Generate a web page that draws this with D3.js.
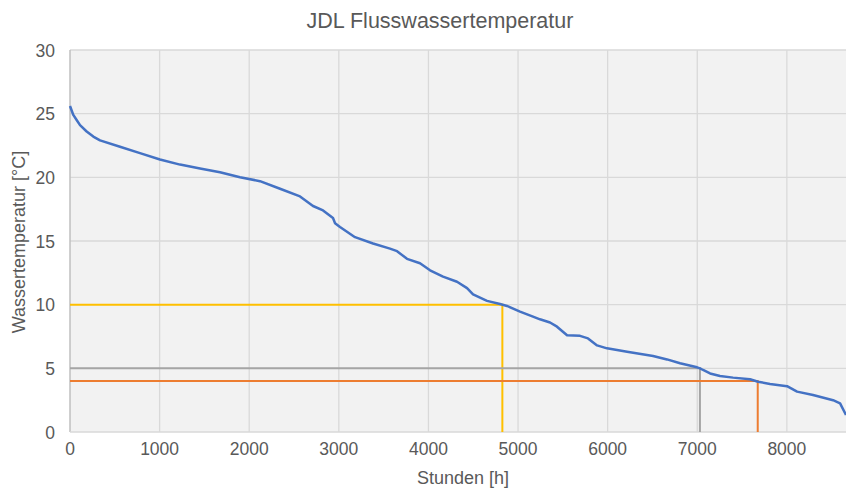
<!DOCTYPE html>
<html><head><meta charset="utf-8">
<script src="https://cdn.jsdelivr.net/npm/d3@7"></script>
<style>body{margin:0;background:#fff;font-family:Arial,"Liberation Sans",sans-serif}</style>
</head><body><svg id="c" width="846" height="488"></svg>
<script>
const hours = [0,37,74,112,186,260,335,558,781,1004,1228,1451,1674,1897,2120,2344,2567,2712,2824,2935,2958,3013,3181,3382,3571,3650,3761,3906,4018,4163,4319,4431,4498,4654,4799,4877,5022,5167,5245,5357,5435,5547,5692,5781,5882,5993,6217,6507,6663,6808,6998,7031,7065,7143,7254,7400,7589,7679,7812,8002,8114,8292,8516,8594,8660];
const temps = [25.6,24.9,24.5,24.1,23.6,23.2,22.9,22.4,21.9,21.4,21.0,20.7,20.4,20.0,19.7,19.1,18.5,17.75,17.4,16.8,16.4,16.1,15.3,14.8,14.4,14.2,13.6,13.25,12.7,12.2,11.8,11.3,10.8,10.3,10.05,9.9,9.45,9.06,8.85,8.6,8.27,7.6,7.55,7.35,6.8,6.57,6.3,5.97,5.7,5.4,5.08,5.0,4.87,4.6,4.4,4.27,4.14,3.95,3.77,3.6,3.17,2.9,2.5,2.25,1.34];
const refTemps = [10,5,4];
const refHours = [4825,7030,7675];
const refColors = ["#FFC000","#A5A5A5","#ED7D31"];
const xTicks = [0,1000,2000,3000,4000,5000,6000,7000,8000];
const yTicks = [0,5,10,15,20,25,30];

const svg = d3.select("#c");
const x = d3.scaleLinear().domain([0,8660]).range([70,846]);
const y = d3.scaleLinear().domain([0,30]).range([432,50]);

svg.append("rect").attr("x",70).attr("y",50).attr("width",776).attr("height",382).attr("fill","#F2F2F2");
svg.append("g").selectAll("line").data(yTicks.slice(1)).join("line")
  .attr("x1",70).attr("x2",846).attr("y1",d=>y(d)).attr("y2",d=>y(d)).attr("stroke","#D9D9D9").attr("stroke-width",1.3);
svg.append("g").selectAll("line").data(xTicks.slice(1)).join("line")
  .attr("y1",50).attr("y2",432).attr("x1",d=>x(d)).attr("x2",d=>x(d)).attr("stroke","#D9D9D9").attr("stroke-width",1.3);
svg.append("line").attr("x1",70).attr("x2",70).attr("y1",50).attr("y2",432).attr("stroke","#BFBFBF").attr("stroke-width",1.5);
svg.append("line").attr("x1",70).attr("x2",846).attr("y1",432).attr("y2",432).attr("stroke","#D9D9D9").attr("stroke-width",1.5);

refTemps.forEach((t,i)=>{
  svg.append("path").attr("d",d3.line()([[x(0),y(t)],[x(refHours[i]),y(t)],[x(refHours[i]),y(0)]]))
    .attr("fill","none").attr("stroke",refColors[i]).attr("stroke-width",2);
});

const data = hours.map((h,i)=>[h,temps[i]]);
svg.append("path").datum(data).attr("fill","none").attr("stroke","#4472C4").attr("stroke-width",2.5)
  .attr("stroke-linejoin","round")
  .attr("d",d3.line().x(d=>x(d[0])).y(d=>y(d[1])));

svg.append("g").selectAll("text").data(xTicks).join("text")
  .attr("x",d=>x(d)).attr("y",455).attr("text-anchor","middle").attr("fill","#595959").attr("font-size",17.5).text(d=>d);
svg.append("g").selectAll("text").data(yTicks).join("text")
  .attr("x",55).attr("y",d=>y(d)+6.5).attr("text-anchor","end").attr("fill","#595959").attr("font-size",17.5).text(d=>d);

svg.append("text").attr("x",440).attr("y",28).attr("text-anchor","middle").attr("fill","#595959").attr("font-size",21.5).text("JDL Flusswassertemperatur");
svg.append("text").attr("x",463).attr("y",484).attr("text-anchor","middle").attr("fill","#595959").attr("font-size",18).text("Stunden [h]");
svg.append("text").attr("transform","translate(25,242) rotate(-90)").attr("text-anchor","middle").attr("fill","#595959").attr("font-size",18).text("Wassertemperatur [°C]");
</script></body></html>
